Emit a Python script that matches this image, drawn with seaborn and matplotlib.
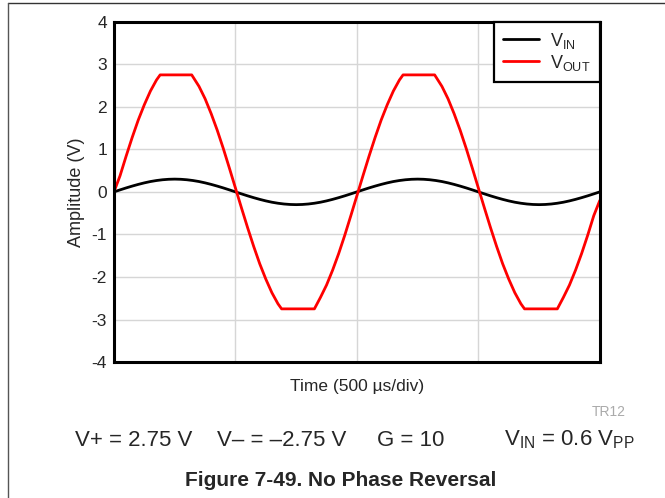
import matplotlib
matplotlib.use('Agg')
import matplotlib.pyplot as plt
from matplotlib.lines import Line2D
import pandas as pd
import seaborn as sns

# Time axis in divisions (500 us/div), values in volts
t_in = [0.0, 0.05, 0.1, 0.15, 0.2, 0.25, 0.3, 0.35, 0.4, 0.45,
        0.5, 0.55, 0.6, 0.65, 0.7, 0.75, 0.8, 0.85, 0.9, 0.95,
        1.0, 1.05, 1.1, 1.15, 1.2, 1.25, 1.3, 1.35, 1.4, 1.45,
        1.5, 1.55, 1.6, 1.65, 1.7, 1.75, 1.8, 1.85, 1.9, 1.95,
        2.0, 2.05, 2.1, 2.15, 2.2, 2.25, 2.3, 2.35, 2.4, 2.45,
        2.5, 2.55, 2.6, 2.65, 2.7, 2.75, 2.8, 2.85, 2.9, 2.95,
        3.0, 3.05, 3.1, 3.15, 3.2, 3.25, 3.3, 3.35, 3.4, 3.45,
        3.5, 3.55, 3.6, 3.65, 3.7, 3.75, 3.8, 3.85, 3.9, 3.95, 4.0]
v_in = [0.0, 0.047, 0.093, 0.136, 0.176, 0.212, 0.243, 0.267, 0.285, 0.296,
        0.3, 0.296, 0.285, 0.267, 0.243, 0.212, 0.176, 0.136, 0.093, 0.047,
        0.0, -0.047, -0.093, -0.136, -0.176, -0.212, -0.243, -0.267, -0.285, -0.296,
        -0.3, -0.296, -0.285, -0.267, -0.243, -0.212, -0.176, -0.136, -0.093, -0.047,
        0.0, 0.047, 0.093, 0.136, 0.176, 0.212, 0.243, 0.267, 0.285, 0.296,
        0.3, 0.296, 0.285, 0.267, 0.243, 0.212, 0.176, 0.136, 0.093, 0.047,
        0.0, -0.047, -0.093, -0.136, -0.176, -0.212, -0.243, -0.267, -0.285, -0.296,
        -0.3, -0.296, -0.285, -0.267, -0.243, -0.212, -0.176, -0.136, -0.093, -0.047, 0.0]

t_out = [0.0, 0.05, 0.1, 0.15, 0.2, 0.25, 0.3, 0.35, 0.38, 0.64,
         0.7, 0.75, 0.8, 0.85, 0.9, 0.95,
         1.0, 1.05, 1.1, 1.15, 1.2, 1.25, 1.3, 1.35, 1.38, 1.65,
         1.7, 1.75, 1.8, 1.85, 1.9, 1.95,
         2.0, 2.05, 2.1, 2.15, 2.2, 2.25, 2.3, 2.35, 2.38, 2.64,
         2.7, 2.75, 2.8, 2.85, 2.9, 2.95,
         3.0, 3.05, 3.1, 3.15, 3.2, 3.25, 3.3, 3.35, 3.38, 3.65,
         3.7, 3.75, 3.8, 3.85, 3.9, 3.95, 4.0]
v_out = [0.0, 0.38, 0.84, 1.28, 1.69, 2.05, 2.37, 2.63, 2.75, 2.75,
         2.48, 2.19, 1.84, 1.45, 1.02, 0.56,
         0.09, -0.38, -0.84, -1.28, -1.69, -2.05, -2.37, -2.63, -2.75, -2.75,
         -2.48, -2.19, -1.84, -1.45, -1.02, -0.56,
         -0.09, 0.38, 0.84, 1.28, 1.69, 2.05, 2.37, 2.63, 2.75, 2.75,
         2.48, 2.19, 1.84, 1.45, 1.02, 0.56,
         0.09, -0.38, -0.84, -1.28, -1.69, -2.05, -2.37, -2.63, -2.75, -2.75,
         -2.48, -2.19, -1.84, -1.45, -1.02, -0.56, -0.2]

lbl_in = r'V$_{\mathregular{IN}}$'
lbl_out = r'V$_{\mathregular{OUT}}$'

df = pd.concat([
    pd.DataFrame({'t': t_in, 'v': v_in, 'signal': lbl_in}),
    pd.DataFrame({'t': t_out, 'v': v_out, 'signal': lbl_out}),
], ignore_index=True)

sns.set_style('white')
plt.rcParams['font.family'] = ['Liberation Sans', 'DejaVu Sans']
plt.rcParams['mathtext.fontset'] = 'custom'
plt.rcParams['mathtext.rm'] = 'Liberation Sans'

fig = plt.figure(figsize=(6.65, 4.98), dpi=100)
ax = fig.add_axes([0.1714, 0.273, 0.902 - 0.1714, 0.9564 - 0.273])

sns.lineplot(data=df, x='t', y='v', hue='signal', estimator=None, sort=False,
             palette={lbl_in: 'black', lbl_out: '#ff0000'},
             linewidth=2.0, ax=ax)

ax.set_xlim(0, 4)
ax.set_ylim(-4, 4)
ax.set_xticks([0, 1, 2, 3, 4])
ax.set_xticklabels([])
ax.set_yticks(range(-4, 5))
ax.set_yticklabels([str(i) for i in range(-4, 5)])
ax.tick_params(axis='both', length=0, labelsize=12.5, pad=5)
ax.grid(True, color='#d6d6d6', linewidth=1.0)
ax.set_axisbelow(True)
for s in ax.spines.values():
    s.set_color('black')
    s.set_linewidth(2.2)
ax.set_xlabel('Time (500 µs/div)', fontsize=12.5, labelpad=7)
ax.set_ylabel('Amplitude (V)', fontsize=13, labelpad=5)

leg = ax.legend(loc='upper right', borderaxespad=0, fancybox=False,
                framealpha=1, edgecolor='black', fontsize=13,
                handlelength=2.0, handletextpad=0.6, labelspacing=0.1,
                borderpad=0.5)
leg.get_frame().set_linewidth(1.6)

# page frame (top and left edges)
fig.add_artist(Line2D([8 / 665, 1.0], [1 - 3 / 498, 1 - 3 / 498], color='#333333', linewidth=1.0))
fig.add_artist(Line2D([8 / 665, 8 / 665], [0, 1 - 3 / 498], color='#555555', linewidth=1.0))

fig.text(626 / 665, 1 - 412 / 498, 'TR12', color='#aaaaaa', fontsize=10, ha='right', va='center')
fig.text(75 / 665, 1 - 440 / 498, 'V+ = 2.75 V', fontsize=16, ha='left', va='center')
fig.text(217 / 665, 1 - 440 / 498, 'V– = –2.75 V', fontsize=16, ha='left', va='center')
fig.text(377 / 665, 1 - 440 / 498, 'G = 10', fontsize=16, ha='left', va='center')
fig.text(504 / 665, 1 - 440 / 498, r'V$_{\mathregular{IN}}$ = 0.6 V$_{\mathregular{PP}}$',
         fontsize=16, ha='left', va='center')
fig.text(341 / 665, 1 - 480 / 498, 'Figure 7-49. No Phase Reversal', fontsize=15,
         fontweight='bold', ha='center', va='center')

fig.savefig('out.png', dpi=100)
